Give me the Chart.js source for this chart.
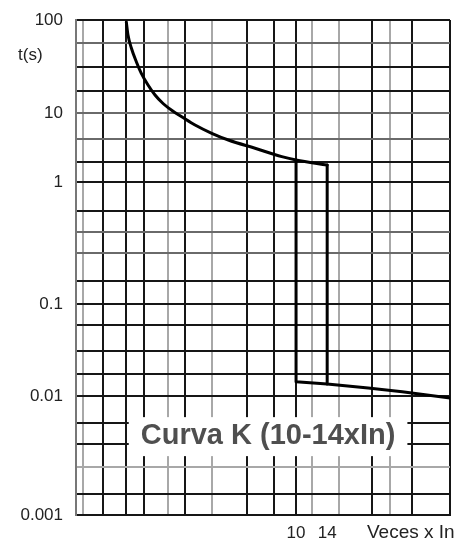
<!DOCTYPE html>
<html><head><meta charset="utf-8">
<script src="https://cdn.jsdelivr.net/npm/chart.js@4/dist/chart.umd.min.js"></script>
<style>html,body{margin:0;padding:0;background:#fff}#wrap{width:454px;height:543px}</style>
</head><body>
<div id="wrap"><canvas id="c" width="454" height="543"></canvas></div>
<script>
// ---------- data ----------
// upper (thermal) boundary of the K curve: multiples of In -> seconds
const upperCurveX = [1.597, 1.626, 1.686, 1.779, 1.878, 2.019, 2.178, 2.375, 2.617, 2.907, 3.357, 4.02, 4.81, 6.42, 8.57, 10, 14];
const upperCurveT = [95.2, 69.0, 50.0, 35.6, 26.7, 20.0, 15.6, 12.66, 10.64, 8.84, 6.70, 5.08, 4.06, 3.08, 2.33, 2.08, 1.76];
// magnetic trip at 10 x In (lower limit)
const trip10X = [10, 10, 14];
const trip10T = [2.08, 0.0143, 0.0135];
// magnetic trip at 14 x In (upper limit) and instantaneous tail
const trip14X = [14, 14, 21.8, 31.5, 52.8];
const trip14T = [1.76, 0.0135, 0.0122, 0.0111, 0.0096];

// grid / tick values of the printed chart paper
const xTickValues = [1, 1.24, 1.59, 1.93, 2.51, 3, 4.03, 5.89, 7.88, 10, 11.9, 14, 15.9, 22.7, 27.6, 35, 52.8];
const xLabelValues = [10, 14];
const xLabelTexts = ['10', '14'];
const yTickValues = [0.001, 0.0015, 0.00253, 0.00395, 0.00593, 0.01, 0.0173, 0.0308, 0.0591, 0.1, 0.154, 0.262, 0.389, 0.578, 1, 1.95, 4.2, 10, 17.3, 31.3, 56.6, 100];
const yLabelValues = [0.001, 0.01, 0.1, 1, 10, 100];
const yLabelTexts = ['0.001', '0.01', '0.1', '1', '10', '100'];
const curveLabel = 'Curva K (10-14xIn)';
const yAxisText = 't(s)';
const xAxisText = 'Veces x In';

// ---------- styles ----------
const xGridShade = ['g','k','k','k','g','k','g','k','k','k','g','n','g','k','g','k','k'];
const yGridShade = ['k','k','g','k','k','k','k','k','k','k','k','m','m','k','k','k','m','m','k','k','m','k'];
const shadeColor = {k: '#161616', g: '#a8a8a8', m: '#6a6a6a', n: 'rgba(0,0,0,0)'};
const FONT = '"Liberation Sans", Arial, sans-serif';

// the scanned paper has unequal decades: stretch each decade separately
const yDecadeExp = [-3, -2, -1, 0, 1, 2];
const yDecadeStop = [0, 0.2404, 0.4263, 0.6727, 0.8121, 1];
const BaseLog = Chart.LogarithmicScale || Chart.registry.getScale('logarithmic');
class ScanLogScale extends BaseLog {
  _dec(v) {
    const L = Math.log10(v);
    let i = Math.floor(L + 1e-9) - yDecadeExp[0];
    i = Math.max(0, Math.min(yDecadeExp.length - 2, i));
    const f = L - yDecadeExp[i];
    return yDecadeStop[i] + f * (yDecadeStop[i + 1] - yDecadeStop[i]);
  }
  getPixelForValue(value) {
    if (value === undefined || value === 0) value = this.min;
    if (value === null || isNaN(value)) return NaN;
    return this.getPixelForDecimal(this._dec(value));
  }
  getValueForPixel(pixel) {
    const d = this.getDecimalForPixel(pixel);
    for (let i = 0; i < yDecadeStop.length - 1; i++) {
      if (d <= yDecadeStop[i + 1] || i === yDecadeStop.length - 2) {
        const f = (d - yDecadeStop[i]) / (yDecadeStop[i + 1] - yDecadeStop[i]);
        return Math.pow(10, yDecadeExp[i] + f);
      }
    }
  }
}
ScanLogScale.id = 'scanLog';
ScanLogScale.defaults = BaseLog.defaults;
Chart.register(ScanLogScale);

const pts = (xs, ys) => xs.map((x, i) => ({x, y: ys[i]}));

const overlay = {
  id: 'overlay',
  beforeDatasetsDraw(chart) {
    const {ctx, chartArea: a, scales: {x, y}} = chart;
    ctx.save();
    // label box
    const cx = x.getPixelForValue(7.39), cy = y.getPixelForValue(0.0046);
    ctx.font = 'bold 29px ' + FONT;
    const w = ctx.measureText(curveLabel).width;
    ctx.fillStyle = '#fff';
    ctx.fillRect(cx - w / 2 - 12, cy - 19, w + 24, 39);
    ctx.fillStyle = '#4f4f4f';
    ctx.textAlign = 'center';
    ctx.textBaseline = 'middle';
    ctx.fillText(curveLabel, cx, cy);
    // axis texts
    ctx.fillStyle = '#222';
    ctx.textAlign = 'left';
    ctx.font = '17px ' + FONT;
    ctx.fillText(yAxisText, a.left - 58, a.top + 35);
    ctx.font = '19px ' + FONT;
    ctx.fillText(xAxisText, a.right - 83, a.bottom + 18);
    ctx.restore();
  }
};

new Chart(document.getElementById('c'), {
  type: 'scatter',
  data: {
    datasets: [
      {data: pts(upperCurveX, upperCurveT), cubicInterpolationMode: 'monotone'},
      {data: pts(trip10X, trip10T)},
      {data: pts(trip14X, trip14T)}
    ].map(d => Object.assign({showLine: true, borderColor: '#000', borderWidth: 3, pointRadius: 0,
      borderJoinStyle: 'round', borderCapStyle: 'round', fill: false}, d))
  },
  options: {
    responsive: false,
    animation: false,
    devicePixelRatio: 1,
    layout: {padding: {top: 20, right: 4, left: 0, bottom: 0}},
    plugins: {legend: {display: false}, tooltip: {enabled: false}},
    scales: {
      x: {
        type: 'logarithmic', min: 0.927, max: 52.8,
        afterBuildTicks: s => { s.ticks = xTickValues.map(v => ({value: v})); },
        afterFit: s => { s.height = 28; s.paddingLeft = 0; s.paddingRight = 0; },
        ticks: {
          autoSkip: false, maxRotation: 0, minRotation: 0, padding: 8,
          color: '#222', font: {family: FONT, size: 17},
          callback: v => { const i = xLabelValues.indexOf(v); return i >= 0 ? xLabelTexts[i] : ''; }
        },
        grid: {drawTicks: false, lineWidth: 2, color: c => shadeColor[xGridShade[c.index]] || '#161616'},
        border: {display: true, color: '#161616', width: 2}
      },
      y: {
        type: 'scanLog', min: 0.001, max: 100,
        afterBuildTicks: s => { s.ticks = yTickValues.map(v => ({value: v})); },
        afterFit: s => { s.width = 76; s.paddingTop = 0; s.paddingBottom = 0; },
        ticks: {
          autoSkip: false, padding: 13,
          color: '#222', font: {family: FONT, size: 17},
          callback: v => { const i = yLabelValues.indexOf(v); return i >= 0 ? yLabelTexts[i] : ''; }
        },
        grid: {drawTicks: false, lineWidth: 2, color: c => shadeColor[yGridShade[c.index]] || '#161616'},
        border: {display: true, color: '#777', width: 2}
      }
    }
  },
  plugins: [overlay]
});
</script>
</body></html>
